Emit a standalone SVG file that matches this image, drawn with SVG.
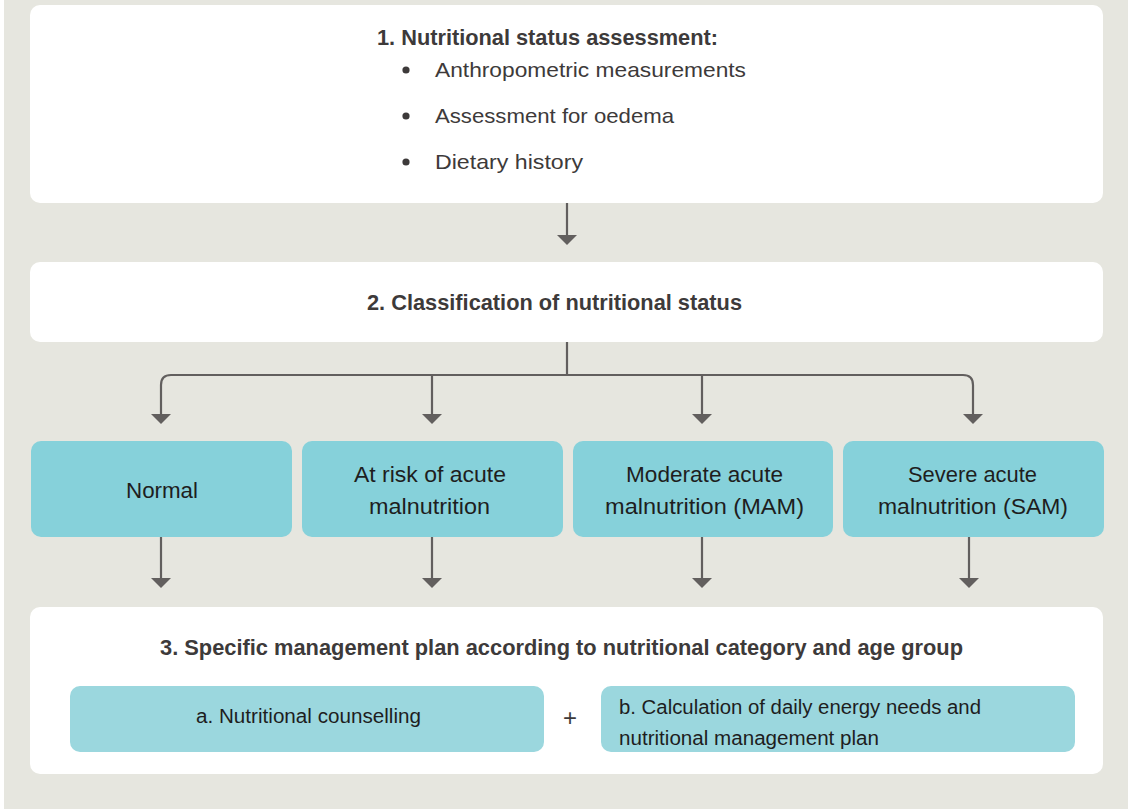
<svg xmlns="http://www.w3.org/2000/svg" width="1128" height="809" viewBox="0 0 1128 809">
<defs>
<style>
.panel{fill:#ffffff}
.cat{fill:#86d1da}
.sub{fill:#9bd7de}
.line{fill:none;stroke:#625f5e;stroke-width:2.2}
.head{fill:#625f5e}
.t{font-family:"Liberation Sans",Arial,sans-serif;fill:#3d3a3a}
.b{font-weight:bold;font-size:22px}
.r{font-size:21px}
.c{font-size:22.5px;fill:#1e1e1e;text-anchor:middle}
.s{font-size:20px;fill:#1e1e1e}
</style>
</defs>
<rect x="0" y="0" width="1128" height="809" fill="#ffffff"/>
<rect x="4" y="0" width="1124" height="809" fill="#e6e6df"/>

<g id="connectors">
<path class="line" d="M567,203 V236"/>
<path class="head" d="M557,235 H577 L567,245 Z"/>
<path class="line" d="M567,342 V375"/>
<path class="line" d="M161,416 V385 Q161,375 171,375 H963 Q973,375 973,385 V416"/>
<path class="line" d="M432,375 V416"/>
<path class="line" d="M702,375 V416"/>
<path class="head" d="M151,414 H171 L161,424 Z"/>
<path class="head" d="M422,414 H442 L432,424 Z"/>
<path class="head" d="M692,414 H712 L702,424 Z"/>
<path class="head" d="M963,414 H983 L973,424 Z"/>
<path class="line" d="M161,537 V579"/>
<path class="line" d="M432,537 V579"/>
<path class="line" d="M702,537 V579"/>
<path class="line" d="M969,537 V579"/>
<path class="head" d="M151,578 H171 L161,588 Z"/>
<path class="head" d="M422,578 H442 L432,588 Z"/>
<path class="head" d="M692,578 H712 L702,588 Z"/>
<path class="head" d="M959,578 H979 L969,588 Z"/>
</g>

<g id="step1">
<rect class="panel" x="30" y="5" width="1073" height="198" rx="10"/>
<text class="t b" x="377" y="45" textLength="341" lengthAdjust="spacingAndGlyphs">1. Nutritional status assessment:</text>
<circle cx="406" cy="70" r="3.6" fill="#3d3a3a"/>
<text class="t r" x="435" y="77" textLength="311" lengthAdjust="spacingAndGlyphs">Anthropometric measurements</text>
<circle cx="406" cy="116" r="3.6" fill="#3d3a3a"/>
<text class="t r" x="435" y="123" textLength="239" lengthAdjust="spacingAndGlyphs">Assessment for oedema</text>
<circle cx="406" cy="162" r="3.6" fill="#3d3a3a"/>
<text class="t r" x="435" y="169" textLength="148" lengthAdjust="spacingAndGlyphs">Dietary history</text>
</g>

<g id="step2">
<rect class="panel" x="30" y="262" width="1073" height="80" rx="10"/>
<text class="t b" x="367" y="310" textLength="375" lengthAdjust="spacingAndGlyphs">2. Classification of nutritional status</text>
</g>

<g id="normal">
<rect class="cat" x="31" y="441" width="261" height="96" rx="10"/>
<text class="t c" x="162" y="498" textLength="72" lengthAdjust="spacingAndGlyphs">Normal</text>
</g>
<g id="at-risk">
<rect class="cat" x="302" y="441" width="261" height="96" rx="10"/>
<text class="t c" x="430" y="482" textLength="152" lengthAdjust="spacingAndGlyphs">At risk of acute</text>
<text class="t c" x="429.5" y="514" textLength="121" lengthAdjust="spacingAndGlyphs">malnutrition</text>
</g>
<g id="mam">
<rect class="cat" x="573" y="441" width="260" height="96" rx="10"/>
<text class="t c" x="704.5" y="482" textLength="157" lengthAdjust="spacingAndGlyphs">Moderate acute</text>
<text class="t c" x="704.5" y="514" textLength="199" lengthAdjust="spacingAndGlyphs">malnutrition (MAM)</text>
</g>
<g id="sam">
<rect class="cat" x="843" y="441" width="261" height="96" rx="10"/>
<text class="t c" x="972.5" y="482" textLength="129" lengthAdjust="spacingAndGlyphs">Severe acute</text>
<text class="t c" x="973" y="514" textLength="190" lengthAdjust="spacingAndGlyphs">malnutrition (SAM)</text>
</g>

<g id="step3">
<rect class="panel" x="30" y="607" width="1073" height="167" rx="10"/>
<text class="t b" x="160" y="655" textLength="803" lengthAdjust="spacingAndGlyphs">3. Specific management plan according to nutritional category and age group</text>
<text class="t" x="570" y="726" font-size="24" fill="#1e1e1e" text-anchor="middle">+</text>
</g>
<g id="counselling">
<rect class="sub" x="70" y="686" width="474" height="66" rx="10"/>
<text class="t s" x="196" y="723" textLength="225" lengthAdjust="spacingAndGlyphs">a. Nutritional counselling</text>
</g>
<g id="energy-plan">
<rect class="sub" x="601" y="686" width="474" height="66" rx="10"/>
<text class="t s" x="619" y="714" textLength="362" lengthAdjust="spacingAndGlyphs">b. Calculation of daily energy needs and</text>
<text class="t s" x="619" y="745" textLength="260" lengthAdjust="spacingAndGlyphs">nutritional management plan</text>
</g>
</svg>
